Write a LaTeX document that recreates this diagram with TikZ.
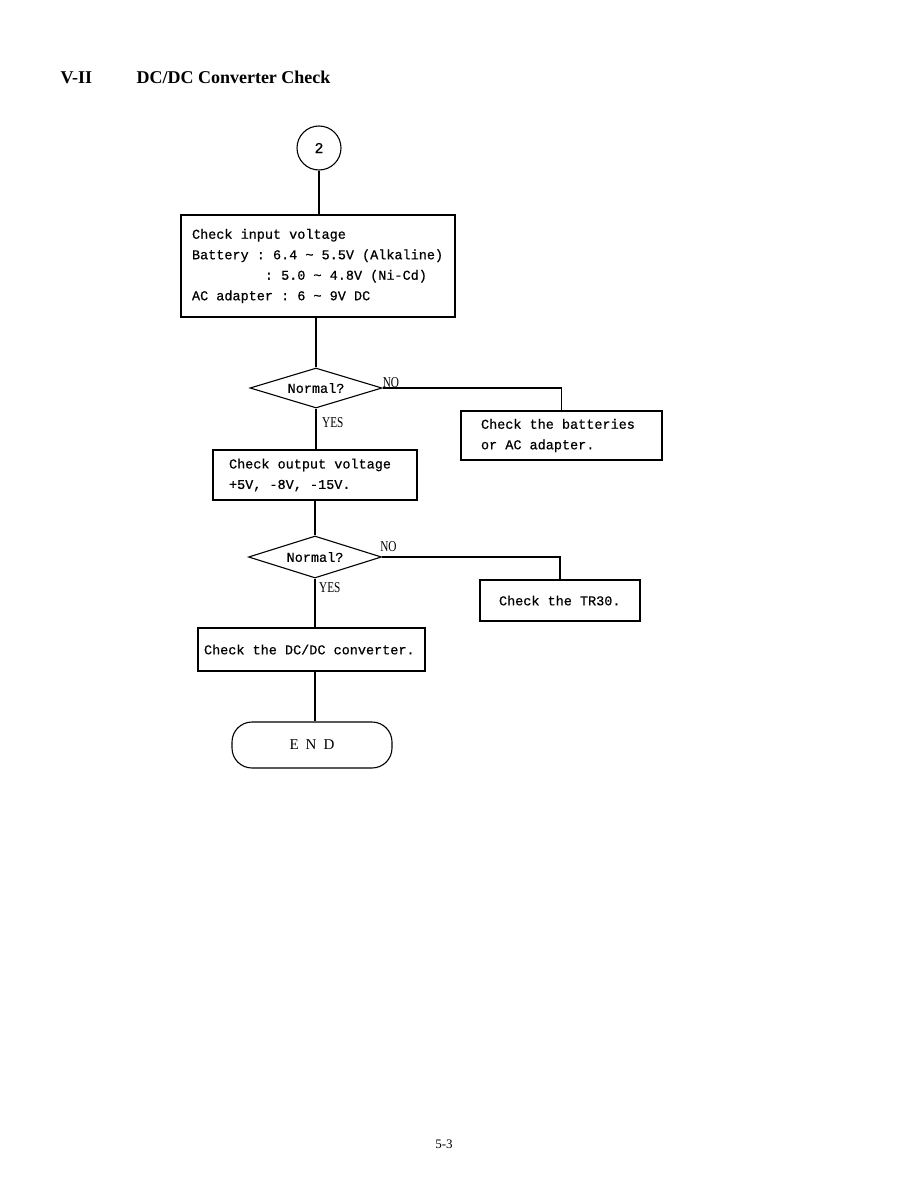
\documentclass[tikz,border=0pt]{standalone}
\usepackage{fontspec}
\setmainfont{Liberation Serif}
\newfontfamily\boxfont[FakeBold=0.6]{Liberation Mono}
\usepackage{tikz}
\usetikzlibrary{positioning}
\usetikzlibrary{shapes.geometric}

\tikzset{
  line/.style={line width=1.1pt},
  chkbox/.style={draw,line width=1.1pt,rectangle,align=left,inner ysep=0pt,font=\boxfont\fontsize{13.5}{20.5}\selectfont,
    execute at begin node={\frenchspacing\spaceskip=0pt\xspaceskip=0pt}},
  decision/.style={draw,line width=1.1pt,diamond,aspect=3,inner sep=0pt,font=\boxfont\fontsize{13.5}{16}\selectfont},
  answer/.style={inner sep=0pt,font=\fontsize{15}{15}\selectfont},
}

\begin{document}
\begin{tikzpicture}[x=1pt,y=-1pt]
\useasboundingbox (0,0) rectangle (918,1188);

% heading
\node[anchor=base west,font=\bfseries\fontsize{18}{18}\selectfont] (sec) at (57,84) {V-II};
\node[anchor=base west,font=\bfseries\fontsize{18}{18}\selectfont] (ttl) at (133,84) {DC/DC Converter Check};

\node[draw,line width=1.1pt,circle,minimum size=44pt,inner sep=0pt,font=\boxfont\fontsize{15}{15}\selectfont] (start) at (319,148) {2};

\node[chkbox,minimum width=274pt,minimum height=102pt,text width=252pt,inner xsep=11pt] (inchk) at (318,266) {Check input voltage\\Battery : 6.4 \textasciitilde{} 5.5V (Alkaline)\\\phantom{Battery}\ \ : 5.0 \textasciitilde{} 4.8V (Ni-Cd)\\AC adapter : 6 \textasciitilde{} 9V DC};

\node[decision,minimum width=132pt,minimum height=40pt] (ok1) at (316,388) {Normal?};
\node[chkbox,minimum width=201pt,minimum height=49pt,text width=161pt,inner xsep=20pt] (batt) at (561.5,435.5) {Check the batteries\\or AC adapter.};
\node[chkbox,minimum width=204pt,minimum height=50pt,text width=172pt,inner xsep=16pt] (outchk) at (315,475) {Check output voltage\\+5V, -8V, -15V.};

\node[decision,minimum width=133pt,minimum height=42pt] (ok2) at (315,557) {Normal?};
\node[chkbox,minimum width=160pt,minimum height=41pt,text width=122pt,inner xsep=19pt] (tr) at (560,600.5) {Check the TR30.};
\node[chkbox,minimum width=227pt,minimum height=43pt,text width=215pt,inner xsep=6pt] (conv) at (311.5,649.5) {Check the DC/DC converter.};

\node[draw,line width=1.1pt,rounded corners=20pt,minimum width=160pt,minimum height=46pt,font=\fontsize{15}{15}\selectfont] (stop) at (312,745) {E\hspace{7pt}N\hspace{7pt}D};

% yes / no
\node[answer,anchor=south west] (no1) at (ok1.east) {\scalebox{0.75}[1]{NO}};
\node[answer,anchor=north west,xshift=6pt,yshift=-9pt] (yes1) at (ok1.south) {\scalebox{0.75}[1]{YES}};
\node[answer,anchor=south west,xshift=-2pt,yshift=5pt] (no2) at (ok2.east) {\scalebox{0.75}[1]{NO}};
\node[answer,anchor=north west,xshift=4pt,yshift=-4pt] (yes2) at (ok2.south) {\scalebox{0.75}[1]{YES}};

\draw[line] (start.south) -- (start.south |- inchk.north);
\draw[line] (ok1.north |- inchk.south) -- (ok1.north);
\draw[line] (ok1.east) -| (batt.north);
\draw[line] (ok1.south) -- (ok1.south |- outchk.north);
\draw[line] (ok2.north |- outchk.south) -- (ok2.north);
\draw[line] (ok2.east) -| (tr.north);
\draw[line] (ok2.south) -- (ok2.south |- conv.north);
\draw[line] (ok2.south |- conv.south) -- (ok2.south |- stop.north);

\node[font=\fontsize{13}{13}\selectfont] (page) at (444,1144) {5-3};
\end{tikzpicture}
\end{document}
